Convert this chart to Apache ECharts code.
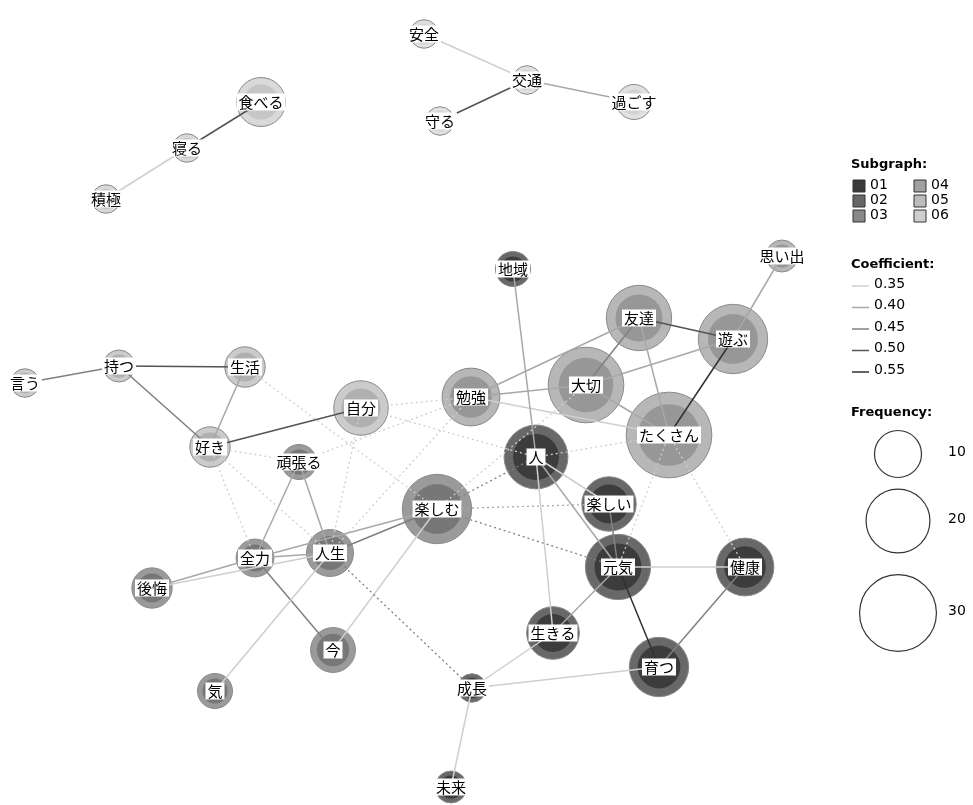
<!DOCTYPE html>
<html><head><meta charset="utf-8">
<script src="https://cdn.jsdelivr.net/npm/echarts@6/dist/echarts.min.js"></script>
<style>html,body{margin:0;padding:0;background:#fff}#c{width:973px;height:805px}</style>
</head><body><div id="c"></div>
<script>
// ---- data ----
const nodeNames = ['安全','交通','守る','過ごす','食べる','寝る','積極','思い出','地域','友達','遊ぶ','言う','持つ','生活','自分','勉強','大切','たくさん','好き','頑張る','人','楽しい','楽しむ','全力','人生','後悔','元気','健康','生きる','今','育つ','気','成長','未来'];
const nodeX = [424,527,440,634,261,187,106,782,513,639,733,25,119,245,361,471,586,669,210,299,536,609,437,255,330,152,618,745,553,333,659,215,472,451];
const nodeY = [34,80,121,102,102,148,199,256,269,318,339,383,366,367,408,397,385,435,447,462,457,504,509,558,553,588,567,567,633,650,667,691,688,787];
const nodeFreq = [3,3,3,5,11,3,3,4,5,21,24,3,4,7,14,16,29,38,7,5,20,14,24,6,10,7,21,16,13,9,17,5,3,4];
const nodeGroup = [6,6,6,6,5,5,5,3,1,3,3,4,4,4,4,3,3,3,4,2,1,1,2,2,2,2,1,1,1,2,1,2,1,1];

const edgeFrom = ['安全','交通','交通','食べる','寝る','思い出','友達','友達','友達','友達','大切','大切','大切','勉強','遊ぶ','言う','持つ','持つ','生活','好き','頑張る','頑張る','後悔','後悔','全力','全力','人生','全力','人生','楽しむ','地域','人','人','人','楽しい','元気','元気','元気','健康','生きる','成長','成長',
  '生活','好き','好き','好き','自分','自分','自分','頑張る','勉強','楽しむ','楽しむ','楽しむ','大切','人','たくさん','たくさん','人生'];
const edgeTo = ['交通','守る','過ごす','寝る','積極','遊ぶ','遊ぶ','大切','勉強','たくさん','遊ぶ','勉強','たくさん','たくさん','たくさん','持つ','生活','好き','好き','自分','全力','人生','全力','人生','人生','楽しむ','楽しむ','今','気','今','人','楽しい','元気','生きる','元気','健康','生きる','育つ','育つ','成長','育つ','未来',
  '楽しむ','頑張る','全力','人生','勉強','人生','人','勉強','人生','人','楽しい','元気','楽しむ','たくさん','元気','健康','成長'];
const edgeCoef = [0.35,0.50,0.40,0.50,0.35,0.40,0.50,0.45,0.40,0.40,0.40,0.40,0.40,0.35,0.55,0.45,0.50,0.45,0.40,0.50,0.40,0.40,0.40,0.35,0.40,0.40,0.45,0.45,0.35,0.35,0.40,0.35,0.40,0.35,0.45,0.35,0.40,0.55,0.45,0.35,0.35,0.35,
  0.35,0.35,0.35,0.35,0.35,0.35,0.35,0.35,0.35,0.45,0.40,0.45,0.35,0.35,0.35,0.35,0.45];
const edgeDotted = [0,0,0,0,0,0,0,0,0,0,0,0,0,0,0,0,0,0,0,0,0,0,0,0,0,0,0,0,0,0,0,0,0,0,0,0,0,0,0,0,0,0,
  1,1,1,1,1,1,1,1,1,1,1,1,1,1,1,1,1];

const subgraphLabels = ['01','02','03','04','05','06'];
const coefTicks = [0.35,0.40,0.45,0.50,0.55];
const freqTicks = [10,20,30];

// ---- styles ----
const innerColor = {1:'#3c3c3c',2:'#777777',3:'#979797',4:'#b0b0b0',5:'#c6c6c6',6:'#d2d2d2'};
const outerColor = {1:'#686868',2:'#9a9a9a',3:'#b7b7b7',4:'#cbcbcb',5:'#d9d9d9',6:'#e0e0e0'};
const legendColor = {1:'#3a3a3a',2:'#666666',3:'#888888',4:'#a0a0a0',5:'#bbbbbb',6:'#cfcfcf'};
function coefColor(c){ if(c>=0.55) return '#303030'; if(c>=0.50) return '#545454'; if(c>=0.45) return '#808080'; if(c>=0.40) return '#a8a8a8'; return '#cfcfcf'; }
function diam(f){ return 6.2 + 12.9*Math.sqrt(f); }

const idx = {}; nodeNames.forEach((n,i)=>idx[n]=i);

const outerData = nodeNames.map((n,i)=>({name:n,value:[nodeX[i],nodeY[i]],symbolSize:diam(nodeFreq[i]),
  itemStyle:{color:outerColor[nodeGroup[i]],borderColor:'#8a8a8a',borderWidth:1,opacity:1}}));
const innerData = nodeNames.map((n,i)=>({name:n,value:[nodeX[i],nodeY[i]],symbolSize:diam(nodeFreq[i])*0.72,
  itemStyle:{color:innerColor[nodeGroup[i]],opacity:1}}));
const labelData = nodeNames.map((n,i)=>({name:n,value:[nodeX[i],nodeY[i]]}));
const edgeData = edgeFrom.map((a,k)=>({coords:[[nodeX[idx[a]],nodeY[idx[a]]],[nodeX[idx[edgeTo[k]]],nodeY[idx[edgeTo[k]]]]],
  lineStyle:{color:coefColor(edgeCoef[k]),width:edgeDotted[k]?1.3:1.5,type:edgeDotted[k]?[2,3]:'solid',opacity:1}}));

// ---- legend (graphic) ----
const FONT = 'DejaVu Sans';
const g = [];
g.push({type:'text',left:851,top:158,style:{text:'Subgraph:',font:'bold 13px "'+FONT+'"',fill:'#000'}});
subgraphLabels.forEach((s,i)=>{
  const col = Math.floor(i/3), row = i%3;
  const x = 853 + col*61, y = 180 + row*15;
  g.push({type:'rect',shape:{x:x,y:y,width:12,height:12},style:{fill:legendColor[i+1],stroke:'#333',lineWidth:1}});
  g.push({type:'text',x:x+17,y:y-2,style:{text:s,font:'14px "'+FONT+'"',fill:'#000'}});
});
g.push({type:'text',left:851,top:258,style:{text:'Coefficient:',font:'bold 13px "'+FONT+'"',fill:'#000'}});
coefTicks.forEach((c,i)=>{
  const y = 286 + i*21.5;
  g.push({type:'line',shape:{x1:852,y1:y,x2:869,y2:y},style:{stroke:coefColor(c),lineWidth:1.5}});
  g.push({type:'text',x:874,y:y-9,style:{text:c.toFixed(2),font:'14px "'+FONT+'"',fill:'#000'}});
});
g.push({type:'text',left:851,top:406,style:{text:'Frequency:',font:'bold 13px "'+FONT+'"',fill:'#000'}});
const fy = [454,521,613];
freqTicks.forEach((f,i)=>{
  g.push({type:'circle',shape:{cx:898,cy:fy[i],r:diam(f)/2},style:{fill:'#fff',stroke:'#333',lineWidth:1.2}});
  g.push({type:'text',x:948,y:fy[i]-9,style:{text:String(f),font:'14px "'+FONT+'"',fill:'#000'}});
});

const chart = echarts.init(document.getElementById('c'));
chart.setOption({
  animation:false,
  backgroundColor:'#fff',
  grid:{left:0,right:0,top:0,bottom:0},
  xAxis:{type:'value',min:0,max:973,show:false},
  yAxis:{type:'value',min:0,max:805,inverse:true,show:false},
  series:[
    {type:'scatter',data:outerData,z:1,symbol:'circle',itemStyle:{opacity:1}},
    {type:'scatter',data:innerData,z:2,symbol:'circle',itemStyle:{opacity:1}},
    {type:'lines',coordinateSystem:'cartesian2d',data:edgeData,z:3,polyline:false,silent:true},
    {type:'scatter',data:labelData,z:4,symbolSize:0,itemStyle:{opacity:1},
      label:{show:true,position:'inside',formatter:p=>p.name,color:'#000',fontSize:15,
        fontFamily:'Noto Sans CJK JP',backgroundColor:'#ffffff',padding:[0,2,0,2],lineHeight:17}}
  ],
  graphic:g
});
</script></body></html>
